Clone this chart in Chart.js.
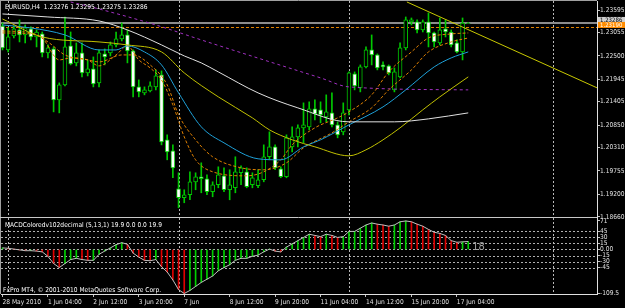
<!DOCTYPE html>
<html>
<head>
    <title>EURUSD,H4</title>
    <style>
        body { margin: 0; background: #000; }
        #wrap { position: relative; width: 625px; height: 308px; background: #000; overflow: hidden; }
        #mainChart { position: absolute; left: 0; top: 0; }
        #macdChart { position: absolute; left: 0; top: 218px; }
    </style>
</head>
<body>
    <script src="https://cdn.jsdelivr.net/npm/chart.js@4.4.1/dist/chart.umd.min.js"></script>
    <div id="wrap">
        <canvas id="mainChart" width="625" height="226"></canvas>
        <canvas id="macdChart" width="625" height="90"></canvas>
    </div>

    <script>
        // price data, H4 bars 28 May 2010 .. 17 Jun 2010
        const openP = [1.23214,1.22642,1.22976,1.23119,1.23000,1.23143,1.22952,1.23024,1.22571,1.22666,
            1.21450,1.21808,1.22738,1.22333,1.22571,1.22094,1.22189,1.21856,1.22547,1.22571,
            1.22762,1.22905,1.23000,1.22619,1.21760,1.21617,1.21665,1.21760,1.22046,1.20497,
            1.20234,1.19329,1.19114,1.19186,1.19495,1.19615,1.19567,1.19257,1.19424,1.19638,
            1.19305,1.19352,1.19710,1.19734,1.19424,1.19400,1.19543,1.20092,1.20330,1.19805,
            1.19615,1.20330,1.20568,1.20783,1.20807,1.21236,1.21212,1.21045,1.21140,1.20854,
            1.20687,1.21212,1.22070,1.21736,1.22237,1.22642,1.22523,1.22285,1.22261,1.21689,
            1.21999,1.22690,1.23310,1.23310,1.23119,1.23310,1.23048,1.22809,1.23143,1.23071,
            1.22809,1.22595,1.23276];
        const highP = [1.23286,1.23167,1.23214,1.23358,1.23238,1.23191,1.23119,1.23071,1.22762,1.22714,
            1.21856,1.23429,1.23071,1.22809,1.22809,1.22404,1.22476,1.22642,1.22666,1.22833,
            1.23071,1.23286,1.23119,1.22642,1.21927,1.21760,1.21879,1.22166,1.22142,1.20616,
            1.20377,1.19710,1.19305,1.19734,1.19710,1.19948,1.19662,1.19495,1.19853,1.19829,
            1.19782,1.20092,1.19877,1.19829,1.19710,1.19782,1.20377,1.20687,1.20377,1.19853,
            1.20616,1.20807,1.20854,1.21379,1.21403,1.21450,1.21403,1.21570,1.21617,1.20926,
            1.21379,1.22118,1.22118,1.22285,1.22714,1.23000,1.22547,1.22356,1.22285,1.22213,
            1.22809,1.23429,1.23405,1.23358,1.23358,1.23524,1.23071,1.23405,1.23358,1.23119,
            1.22881,1.23405,1.23295];
        const lowP = [1.22642,1.22595,1.22928,1.22833,1.22809,1.22881,1.22714,1.22476,1.22452,1.21164,
            1.21140,1.21784,1.22285,1.22261,1.21999,1.22022,1.21760,1.21760,1.22285,1.22499,
            1.22714,1.22857,1.22333,1.21522,1.21522,1.21570,1.21641,1.21689,1.20377,1.20020,
            1.19591,1.18875,1.18995,1.19066,1.19305,1.19233,1.19186,1.19138,1.19352,1.19257,
            1.19066,1.19233,1.19424,1.19352,1.19352,1.19352,1.19495,1.20020,1.19782,1.19591,
            1.19591,1.20211,1.20330,1.20425,1.20735,1.20974,1.20902,1.20926,1.20807,1.20544,
            1.20616,1.21093,1.21689,1.21641,1.22213,1.22285,1.22166,1.22166,1.22046,1.21641,
            1.21975,1.22642,1.23238,1.23048,1.23071,1.22714,1.22714,1.22762,1.22952,1.22714,
            1.22571,1.22404,1.23275];
        const closeP = [1.22690,1.22952,1.23143,1.23000,1.23167,1.22952,1.23071,1.22571,1.22690,1.21450,
            1.21808,1.22714,1.22309,1.22571,1.22094,1.22189,1.21832,1.22571,1.22476,1.22762,
            1.22905,1.23000,1.22619,1.21760,1.21641,1.21689,1.21784,1.22022,1.20449,1.20211,
            1.19829,1.19114,1.19186,1.19495,1.19615,1.19567,1.19257,1.19424,1.19662,1.19305,
            1.19424,1.19734,1.19829,1.19376,1.19591,1.19543,1.20092,1.20330,1.19829,1.19615,
            1.20544,1.20568,1.20783,1.20854,1.21236,1.21117,1.21093,1.21164,1.20854,1.20616,
            1.21140,1.22094,1.21784,1.22237,1.22642,1.22523,1.22213,1.22237,1.22094,1.22118,
            1.22690,1.23358,1.23358,1.23119,1.23310,1.23048,1.22833,1.23119,1.23071,1.22762,
            1.22595,1.23286,1.23286];

        // moving averages (bar index, value)
        const whiteBars = [0,8,17,22,28,32,35,38,45,52,61,69,75,82];
        const whiteVals = [1.23501,1.23429,1.23334,1.23119,1.22762,1.22499,1.22333,1.22118,1.21617,1.21260,1.20926,1.20926,1.20997,1.21140];
        const yellowBars = [0,7,17,22,28,32,38,44,47,51,55,61,64,67,70,74,77,82];
        const yellowVals = [1.23381,1.22952,1.22833,1.22762,1.22595,1.22094,1.21522,1.21021,1.20735,1.20497,1.20330,1.20115,1.20258,1.20497,1.20783,1.21212,1.21522,1.21999];
        const cyanBars = [0,5,11,17,20,22,25,28,31,35,39,45,49,53,56,61,67,71,76,79,82];
        const cyanVals = [1.23238,1.23167,1.23000,1.22642,1.22642,1.22738,1.22595,1.22285,1.21617,1.20807,1.20425,1.20044,1.20020,1.20330,1.20497,1.20854,1.21283,1.21689,1.22237,1.22452,1.22595];
        const fastBars = [0,5,7,10,12,15,17,20,22,24,26,28,30,32,34,37,43,46,49,51,55,59,61,65,68,72,75,79,82];
        const fastVals = [1.23048,1.23024,1.22928,1.22404,1.22452,1.22404,1.22261,1.22523,1.22738,1.22404,1.22213,1.21927,1.21331,1.20568,1.20020,1.19734,1.19638,1.19734,1.20020,1.20377,1.20783,1.21021,1.21164,1.21570,1.22118,1.22595,1.22928,1.23024,1.23048];
        const slowBars = [0,5,8,11,15,17,21,23,26,29,31,34,37,42,46,50,53,58,61,65,68,72,75,79,82];
        const slowVals = [1.23095,1.23048,1.22833,1.22523,1.22404,1.22356,1.22523,1.22523,1.22285,1.21808,1.21093,1.20497,1.20092,1.19829,1.19782,1.19948,1.20306,1.20664,1.20926,1.21260,1.21689,1.22166,1.22595,1.22833,1.22928];
        const purpleBars = [12,17,27,35,46,56,61,82];
        const purpleVals = [1.23787,1.23620,1.23238,1.22881,1.22404,1.21975,1.21760,1.21689];
        const trendBars = [71.2, 104.7];
        const trendVals = [1.23787, 1.21736];

        const bidPrice = 1.23286;
        const levelPrice = 1.23190;
        const priceTicks = [1.23595,1.23055,1.22500,1.21945,1.21405,1.20850,1.20310,1.19755,1.19200,1.18660];
        const separatorBars = [1, 31, 61, 97];

        // MACDColoredv102decimal (5,13,1)
        const macdVals = [4,3,1,-1,-3,-3,-4,-6,-17,-35,-45,-35,-25,-22,-25,-27,-27,-12,-4,4,
            12,17,13,-9,-19,-27,-28,-25,-43,-56,-76,-100,-109.5,-102,-92,-82,-74,-66,-53,-45,
            -38,-27,-22,-22,-17,-14,-6,1,-4,-6,6,14,22,30,38,35,32,38,35,30,
            32,45,45,53,61,66,63,61,58,61,69,71,69,63,58,50,43,40,35,22,
            18,19,19.9];
        const macdTicks = [71,45,30,15,0,-15,-30,-45,-109.5];
        const macdLevels = [45,30,15,0,-15,-30,-45];

        const timeTickBars = [0,8,16,24,32,40,48,56,64,72,80];
        const timeLabels = ['28 May 2010','1 Jun 04:00','2 Jun 12:00','3 Jun 20:00','7 Jun','8 Jun 12:00',
            '9 Jun 20:00','11 Jun 04:00','14 Jun 12:00','15 Jun 20:00','17 Jun 04:00'];

        const mtFamily = "'DejaVu Sans Condensed', 'Liberation Sans', Arial, sans-serif";
        const mtSize = 6.6;
        const candleGreen = '#00c800';
        const barMin = -0.26, barMax = 104.67;
        const bars = openP.map((_, i) => i);

        function maLine(xs, ys, color, dash) {
            return {
                type: 'line',
                data: xs.map((b, k) => ({ x: b, y: ys[k] })),
                borderColor: color,
                borderWidth: 1,
                borderDash: dash,
                pointRadius: 0,
                cubicInterpolationMode: 'monotone',
                order: 0
            };
        }

        function vLines(chart, list) {
            const { ctx, chartArea: a, scales: { x } } = chart;
            ctx.save();
            ctx.strokeStyle = '#b8b8b8';
            ctx.lineWidth = 1;
            ctx.setLineDash([2, 2]);
            list.forEach(b => {
                const px = Math.round(x.getPixelForValue(b)) + 0.5;
                ctx.beginPath();
                ctx.moveTo(px, a.top);
                ctx.lineTo(px, a.bottom);
                ctx.stroke();
            });
            ctx.restore();
        }

        const mainOverlay = {
            id: 'mainOverlay',
            beforeDatasetsDraw(chart) {
                const { ctx, chartArea: a, scales: { y } } = chart;
                vLines(chart, separatorBars);
                ctx.save();
                ctx.lineWidth = 1;
                // bid line
                let py = Math.round(y.getPixelForValue(bidPrice)) + 0.5;
                ctx.strokeStyle = '#8c8c8c';
                ctx.beginPath(); ctx.moveTo(a.left, py); ctx.lineTo(a.right, py); ctx.stroke();
                ctx.beginPath(); ctx.moveTo(a.left, py - 1); ctx.lineTo(a.right, py - 1); ctx.stroke();
                // orange level
                py = Math.round(y.getPixelForValue(levelPrice)) + 0.5;
                ctx.strokeStyle = '#e08000';
                ctx.setLineDash([3, 2]);
                ctx.beginPath(); ctx.moveTo(a.left, py); ctx.lineTo(a.right, py); ctx.stroke();
                ctx.restore();
            },
            afterDraw(chart) {
                const { ctx, chartArea: a, scales: { y } } = chart;
                ctx.save();
                // frame
                ctx.strokeStyle = '#a0a0a0';
                ctx.lineWidth = 1;
                ctx.beginPath();
                ctx.moveTo(0.5, 0); ctx.lineTo(0.5, a.bottom);
                ctx.moveTo(0, 0.5); ctx.lineTo(a.right, 0.5);
                ctx.stroke();
                ctx.strokeStyle = '#c8c8c8';
                ctx.beginPath();
                ctx.moveTo(0, a.bottom + 0.5); ctx.lineTo(a.right, a.bottom + 0.5);
                ctx.stroke();
                // price boxes on the axis
                ctx.font = '6px ' + mtFamily;
                ctx.textBaseline = 'middle';
                let py = y.getPixelForValue(bidPrice);
                ctx.fillStyle = '#d0d0d0';
                ctx.fillRect(a.right + 1, py - 6, 27, 6);
                ctx.fillStyle = '#000';
                ctx.fillText(bidPrice.toFixed(5), a.right + 3, py - 3);
                py = y.getPixelForValue(levelPrice);
                ctx.fillStyle = '#ff8c00';
                ctx.fillRect(a.right + 1, py - 5, 27, 6);
                ctx.fillStyle = '#fff';
                ctx.fillText(levelPrice.toFixed(5), a.right + 3, py - 2);
                // title
                const last = openP.length - 1;
                const title = 'EURUSD,H4  ' + [openP[last], highP[last], lowP[last], closeP[last]]
                    .map(v => v.toFixed(5)).join(' ');
                ctx.font = mtSize + 'px ' + mtFamily;
                ctx.fillStyle = '#ffffff';
                ctx.fillText(title, 5, 7);
                ctx.restore();
            }
        };

        const macdOverlay = {
            id: 'macdOverlay',
            beforeDatasetsDraw(chart) {
                const { ctx, chartArea: a, scales: { y } } = chart;
                ctx.save();
                ctx.strokeStyle = '#b0b0b0';
                ctx.lineWidth = 1;
                ctx.setLineDash([2, 2]);
                macdLevels.forEach(v => {
                    const py = Math.round(y.getPixelForValue(v)) + 0.5;
                    ctx.beginPath(); ctx.moveTo(a.left, py); ctx.lineTo(a.right, py); ctx.stroke();
                });
                ctx.restore();
                vLines(chart, separatorBars);
            },
            afterDraw(chart) {
                const { ctx, chartArea: a, scales: { x, y } } = chart;
                ctx.save();
                ctx.strokeStyle = '#a0a0a0';
                ctx.beginPath(); ctx.moveTo(0.5, 0); ctx.lineTo(0.5, a.bottom); ctx.stroke();
                ctx.font = mtSize + 'px ' + mtFamily;
                ctx.fillStyle = '#ffffff';
                ctx.textBaseline = 'middle';
                ctx.fillText('MACDColoredv102decimal (5,13,1) 19.9 0.0 0.0 19.9', 5, 7);
                ctx.fillText('FxPro MT4, \u00a9 2001-2010 MetaQuotes Software Corp.', 3, 72);
                ctx.font = '11px ' + mtFamily;
                ctx.fillStyle = '#a0a0a0';
                ctx.fillText('18', x.getPixelForValue(bars.length - 1) + 4, y.getPixelForValue(0) - 2);
                ctx.restore();
            }
        };

        new Chart(document.getElementById('mainChart'), {
            type: 'line',
            data: {
                datasets: [
                    {
                        type: 'bar',
                        data: bars.map(i => ({ x: i, y: [lowP[i], highP[i]] })),
                        backgroundColor: candleGreen,
                        barThickness: 1,
                        grouped: false,
                        order: 3
                    },
                    {
                        type: 'bar',
                        data: bars.map(i => ({ x: i, y: [openP[i], closeP[i]] })),
                        backgroundColor: c => closeP[c.dataIndex] >= openP[c.dataIndex] ? '#000000' : '#ffffff',
                        borderColor: candleGreen,
                        borderWidth: 1,
                        borderSkipped: false,
                        barThickness: 4,
                        grouped: false,
                        order: 2
                    },
                    maLine(whiteBars, whiteVals, '#e0e0e0', []),
                    maLine(yellowBars, yellowVals, '#c0c000', []),
                    maLine(cyanBars, cyanVals, '#1ea0d8', []),
                    maLine(slowBars, slowVals, '#e08000', [3, 2]),
                    maLine(fastBars, fastVals, '#e08000', [3, 2]),
                    maLine(purpleBars, purpleVals, '#a030c0', [3, 3]),
                    maLine(trendBars, trendVals, '#c8c800', [])
                ]
            },
            options: {
                responsive: false,
                animation: false,
                events: [],
                layout: { padding: { left: 1, top: 1, right: 0, bottom: 9 } },
                plugins: { legend: { display: false }, tooltip: { enabled: false } },
                scales: {
                    x: { type: 'linear', min: barMin, max: barMax, offset: false, display: false },
                    y: {
                        type: 'linear',
                        position: 'right',
                        min: 1.18655,
                        max: 1.23810,
                        afterBuildTicks: s => { s.ticks = priceTicks.map(v => ({ value: v })); },
                        afterFit: s => { s.width = 28; s.paddingTop = 0; s.paddingBottom = 0; },
                        grid: { drawOnChartArea: false, drawTicks: true, tickLength: 3, color: '#c0c0c0' },
                        border: { display: true, color: '#e0e0e0' },
                        ticks: {
                            color: '#e0e0e0',
                            padding: 0,
                            autoSkip: false,
                            font: { family: mtFamily, size: mtSize },
                            callback: v => v.toFixed(5)
                        }
                    }
                }
            },
            plugins: [mainOverlay]
        });

        new Chart(document.getElementById('macdChart'), {
            type: 'line',
            data: {
                datasets: [
                    {
                        type: 'bar',
                        data: bars.map(i => ({ x: i, y: macdVals[i] })),
                        backgroundColor: c => (c.dataIndex > 0 && macdVals[c.dataIndex] < macdVals[c.dataIndex - 1]) ? '#e00000' : '#00d000',
                        barThickness: 1,
                        order: 2
                    },
                    {
                        type: 'line',
                        data: bars.map(i => ({ x: i, y: macdVals[i] })),
                        borderColor: '#c0c0c0',
                        borderWidth: 1,
                        pointRadius: 0,
                        order: 1
                    }
                ]
            },
            options: {
                responsive: false,
                animation: false,
                events: [],
                layout: { padding: { left: 1, top: 0, right: 0, bottom: 0 } },
                plugins: { legend: { display: false }, tooltip: { enabled: false } },
                scales: {
                    x: {
                        type: 'linear',
                        min: barMin,
                        max: barMax,
                        offset: false,
                        afterBuildTicks: s => { s.ticks = timeTickBars.map(v => ({ value: v })); },
                        afterFit: s => { s.height = 14; s.paddingLeft = 0; s.paddingRight = 0; },
                        grid: { drawOnChartArea: false, drawTicks: true, tickLength: 3, color: '#c0c0c0', offset: false },
                        border: { display: true, color: '#e0e0e0' },
                        ticks: {
                            align: 'start',
                            padding: 1,
                            autoSkip: false,
                            maxRotation: 0,
                            color: '#e0e0e0',
                            font: { family: mtFamily, size: mtSize },
                            callback: v => timeLabels[timeTickBars.indexOf(v)]
                        }
                    },
                    y: {
                        type: 'linear',
                        position: 'right',
                        min: -110.8,
                        max: 78.4,
                        afterBuildTicks: s => { s.ticks = macdTicks.map(v => ({ value: v })); },
                        afterFit: s => { s.width = 28; s.paddingTop = 0; s.paddingBottom = 0; },
                        grid: { drawOnChartArea: false, drawTicks: true, tickLength: 3, color: '#c0c0c0' },
                        border: { display: true, color: '#e0e0e0' },
                        ticks: {
                            color: '#e0e0e0',
                            padding: 0,
                            autoSkip: false,
                            font: { family: mtFamily, size: mtSize },
                            callback: v => v === 0 ? '0.00' : String(v)
                        }
                    }
                }
            },
            plugins: [macdOverlay]
        });
    </script>
</body>
</html>
